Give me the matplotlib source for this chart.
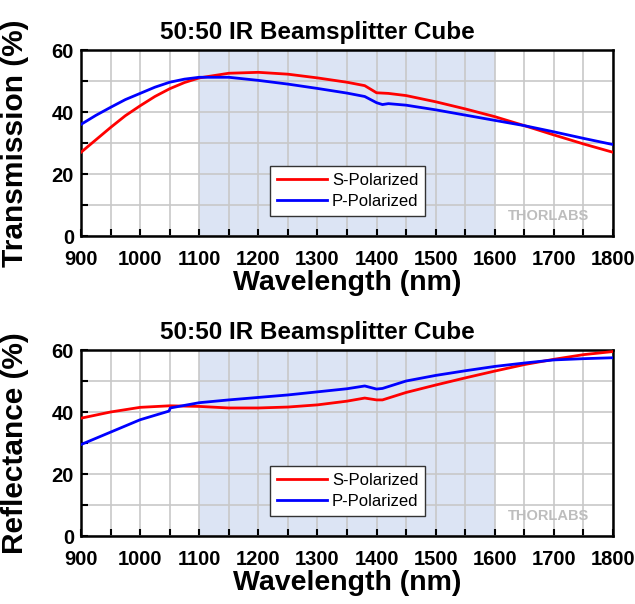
import matplotlib
matplotlib.use("Agg")
import matplotlib.pyplot as plt
from matplotlib.ticker import MultipleLocator

plt.rcParams['font.family'] = ['Liberation Sans', 'DejaVu Sans']

wl_t_s = [900, 925, 950, 975, 1000, 1025, 1050, 1075, 1100, 1150, 1200, 1250, 1300, 1350, 1380, 1400, 1420, 1450, 1500, 1550, 1600, 1650, 1700, 1750, 1800]
trans_s = [27, 31, 35, 38.8, 42, 45, 47.5, 49.5, 51, 52.5, 52.8, 52.2, 51, 49.6, 48.5, 46.2, 46, 45.3, 43.3, 41, 38.5, 35.6, 32.6, 29.7, 27]
wl_t_p = [900, 925, 950, 975, 1000, 1025, 1050, 1075, 1100, 1150, 1200, 1250, 1300, 1350, 1380, 1400, 1410, 1420, 1450, 1500, 1550, 1600, 1650, 1700, 1750, 1800]
trans_p = [36, 38.9, 41.5, 44, 46, 48, 49.6, 50.6, 51.2, 51.2, 50.2, 49, 47.6, 46.1, 45, 43, 42.4, 42.7, 42.2, 40.7, 39, 37.3, 35.6, 33.6, 31.5, 29.5]

wl_r_s = [900, 950, 1000, 1050, 1100, 1150, 1200, 1250, 1300, 1350, 1380, 1400, 1410, 1450, 1500, 1550, 1600, 1650, 1700, 1750, 1800]
refl_s = [38, 40, 41.5, 42, 41.8, 41.3, 41.3, 41.6, 42.3, 43.5, 44.5, 43.9, 43.9, 46.3, 48.7, 51, 53.2, 55.3, 57, 58.5, 59.5]
wl_r_p = [900, 950, 1000, 1049, 1051, 1100, 1150, 1200, 1250, 1300, 1350, 1380, 1400, 1410, 1450, 1500, 1550, 1600, 1650, 1700, 1750, 1800]
refl_p = [29.5, 33.5, 37.5, 40.3, 41.3, 43, 43.9, 44.7, 45.5, 46.5, 47.5, 48.4, 47.4, 47.6, 50, 51.8, 53.3, 54.7, 55.8, 56.8, 57.2, 57.5]

x_ticks = [900, 1000, 1100, 1200, 1300, 1400, 1500, 1600, 1700, 1800]
y_ticks = [0, 20, 40, 60]
band = (1100, 1600)

fig = plt.figure(figsize=(6.35, 6.04), dpi=100)
W, H = 635, 604

def make_ax(top_px, bot_px):
    l, r = 81, 613
    return fig.add_axes([l / W, 1 - bot_px / H, (r - l) / W, (bot_px - top_px) / H])

panels = [
    (make_ax(50, 236), wl_t_s, trans_s, wl_t_p, trans_p, 'Transmission (%)'),
    (make_ax(350, 536), wl_r_s, refl_s, wl_r_p, refl_p, 'Reflectance (%)'),
]

for ax, xs, ys, xp, yp, ylabel in panels:
    ax.axvspan(band[0], band[1], color='#dce4f4', zorder=0, lw=0)
    ax.plot(xs, ys, color='#ff0000', lw=2, label='S-Polarized', zorder=3)
    ax.plot(xp, yp, color='#0000ff', lw=2, label='P-Polarized', zorder=3)
    ax.set_xlim(900, 1800)
    ax.set_ylim(0, 60)
    ax.set_xticks(x_ticks)
    ax.set_yticks(y_ticks)
    ax.xaxis.set_minor_locator(MultipleLocator(50))
    ax.yaxis.set_minor_locator(MultipleLocator(10))
    ax.grid(True, which='both', color='#c8c8c8', lw=1.2, zorder=1)
    ax.set_axisbelow(True)
    ax.tick_params(which='both', direction='in', length=5, width=1.5, top=False, right=False)
    for lab in ax.get_xticklabels() + ax.get_yticklabels():
        lab.set_fontweight('bold')
        lab.set_fontsize(14.5)
    ax.tick_params(axis='x', pad=10)
    ax.tick_params(axis='y', pad=5)
    for s in ax.spines.values():
        s.set_linewidth(1.8)
        s.set_color('black')
    ax.set_xlabel('Wavelength (nm)', fontsize=20.5, fontweight='bold', labelpad=1)
    ax.set_ylabel(ylabel, fontsize=21.5, fontweight='bold', labelpad=0)
    ax.yaxis.set_label_coords(-0.098, 0.5)
    ax.set_title('50:50 IR Beamsplitter Cube', fontsize=17.5, fontweight='bold', pad=8, x=0.445)
    leg = ax.legend(loc='lower left', bbox_to_anchor=(0.34, 0.065), fontsize=12,
                    frameon=True, fancybox=False, edgecolor='#333333', framealpha=1,
                    handlelength=3.0, handletextpad=0.3, borderpad=0.4, labelspacing=0.35)
    leg.get_frame().set_linewidth(1.0)
    ax.text(0.955, 0.11, 'THORLABS', transform=ax.transAxes, ha='right', va='center',
            fontsize=10.5, fontweight='bold', color='#bdbdbd', zorder=2)

fig.savefig('out.png', dpi=100)
